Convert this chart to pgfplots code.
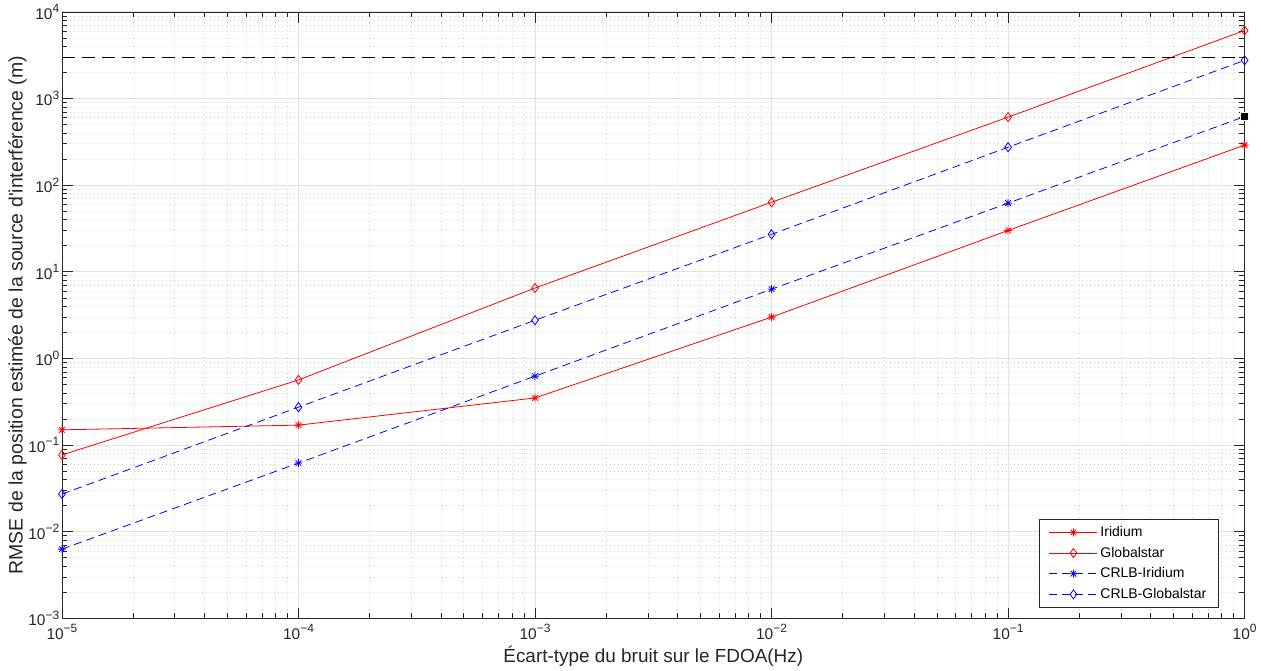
\documentclass[border=0pt]{standalone}
\usepackage{fontspec}
\setmainfont{Liberation Sans}
\usepackage{pgfplots}
\pgfplotsset{compat=1.18}

\definecolor{axisgray}{RGB}{38,38,38}
\definecolor{gridgray}{RGB}{226,226,226}
\definecolor{mgridgray}{RGB}{212,212,212}

\pgfdeclareplotmark{mstar}{%
  \pgfpathmoveto{\pgfqpoint{-\pgfplotmarksize}{0pt}}\pgfpathlineto{\pgfqpoint{\pgfplotmarksize}{0pt}}%
  \pgfpathmoveto{\pgfqpoint{0pt}{-\pgfplotmarksize}}\pgfpathlineto{\pgfqpoint{0pt}{\pgfplotmarksize}}%
  \pgfpathmoveto{\pgfqpoint{-0.707\pgfplotmarksize}{-0.707\pgfplotmarksize}}\pgfpathlineto{\pgfqpoint{0.707\pgfplotmarksize}{0.707\pgfplotmarksize}}%
  \pgfpathmoveto{\pgfqpoint{-0.707\pgfplotmarksize}{0.707\pgfplotmarksize}}\pgfpathlineto{\pgfqpoint{0.707\pgfplotmarksize}{-0.707\pgfplotmarksize}}%
  \pgfusepathqstroke}

\newcommand{\tl}[1]{{\fontsize{11.6}{13}\selectfont 10\raisebox{0.42em}{\fontsize{9}{10}\selectfont #1}}}

\begin{document}
\begin{tikzpicture}
\begin{axis}[
  name=main,
  scale only axis,
  width=887.25pt, height=455pt,
  xmode=log, ymode=log,
  xmin=1e-5, xmax=1, ymin=1e-3, ymax=1e4,
  xtick={1e-5,1e-4,1e-3,1e-2,1e-1,1},
  xticklabels={\tl{−5},\tl{−4},\tl{−3},\tl{−2},\tl{−1},\tl{0}},
  ytick={1e-3,1e-2,1e-1,1,1e1,1e2,1e3,1e4},
  yticklabels={\tl{−3},\tl{−2},\tl{−1},\tl{0},\tl{1},\tl{2},\tl{3},\tl{4}},
  clip=false,
  tick align=inside,
  major tick length=8pt,
  minor tick length=4pt,
  grid=both,
  major grid style={draw=gridgray, line width=0.6pt},
  minor grid style={draw=mgridgray, dash pattern=on 0.75pt off 2.25pt, line width=0.5pt},
  axis line style={draw=axisgray, line width=0.5pt},
  every tick/.style={draw=axisgray, line width=0.5pt},
  tick label style={text=axisgray},
  xticklabel style={yshift=-1pt},
  yticklabel style={xshift=1.5pt},
  xlabel={Écart-type du bruit sur le FDOA(Hz)},
  ylabel={RMSE de la position estimée de la source d\textquotesingle{}interférence (m)},
  xlabel style={font=\fontsize{14.2}{16}\selectfont, text=axisgray, at={(axis description cs:0.5,-0.0725)}, anchor=base},
  ylabel style={font=\fontsize{14.6}{16}\selectfont, text=axisgray, at={(axis description cs:-0.0332,0.5)}, anchor=base, rotate=0},
  legend style={at={(0.978,0.018)}, anchor=south east, draw=axisgray, line width=0.5pt,
    font=\fontsize{10.5}{12}\selectfont, text=black, row sep=2.4pt, inner xsep=7pt, inner ysep=3pt},
  legend cell align=left,
  legend image code/.code={\draw[mark repeat=2, mark phase=2] plot coordinates {(0pt,0pt)(18pt,0pt)(36pt,0pt)};},
]
\addplot[red, line width=0.6pt, mark=mstar, mark size=3pt, mark options={solid}]
  coordinates {(1e-5,0.150)(1e-4,0.170)(1e-3,0.350)(1e-2,3.0)(1e-1,30)(1,290)};
\addlegendentry{Iridium}
\addplot[red, line width=0.6pt, mark=diamond, mark size=3.4pt, mark options={solid}]
  coordinates {(1e-5,0.077)(1e-4,0.565)(1e-3,6.5)(1e-2,63.5)(1e-1,610)(1,6100)};
\addlegendentry{Globalstar}
\addplot[blue, line width=0.6pt, dash pattern=on 6pt off 3.75pt, mark=mstar, mark size=3pt, mark options={solid}]
  coordinates {(1e-5,0.0063)(1e-4,0.062)(1e-3,0.625)(1e-2,6.3)(1e-1,62)(1,620)};
\addlegendentry{CRLB-Iridium}
\addplot[blue, line width=0.6pt, dash pattern=on 6pt off 3.75pt, mark=diamond, mark size=3.4pt, mark options={solid}]
  coordinates {(1e-5,0.0272)(1e-4,0.274)(1e-3,2.76)(1e-2,27.1)(1e-1,274)(1,2760)};
\addlegendentry{CRLB-Globalstar}
\addplot[black, line width=1pt, dash pattern=on 10pt off 5pt, forget plot]
  coordinates {(1e-5,3000)(1,3000)};
\addplot[only marks, mark=square*, mark size=3pt, mark options={fill=black, draw={rgb,255:red,250;green,250;blue,210}, line width=0.4pt}, forget plot]
  coordinates {(1,620)};
\end{axis}
\path (main.south west) ++(-46.5pt,-36.75pt) rectangle ([shift={(12pt,8.625pt)}]main.north east);
\end{tikzpicture}
\end{document}
